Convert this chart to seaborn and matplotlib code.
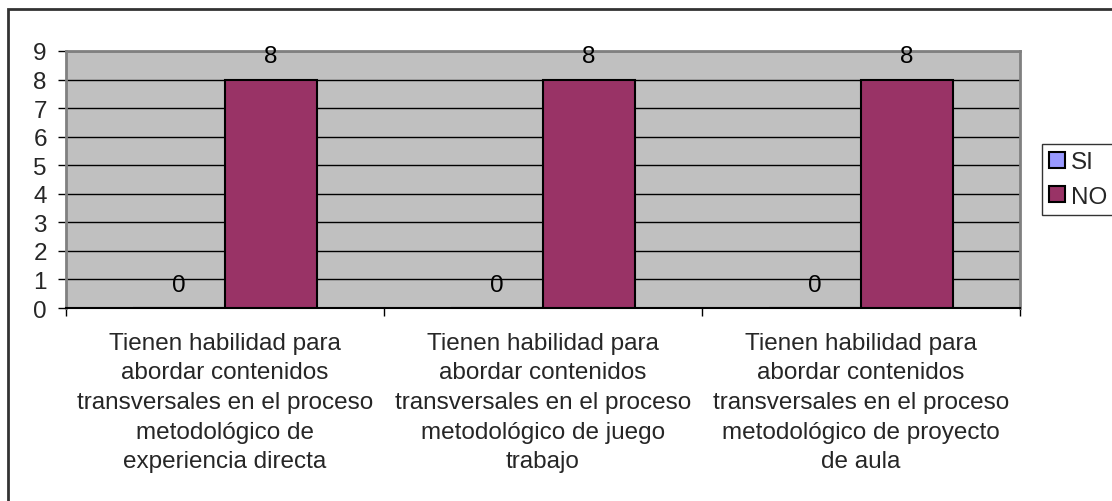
import pandas as pd
import seaborn as sns
from matplotlib import pyplot as plt
from matplotlib.patches import Rectangle

# data
categories = [
    "Tienen habilidad para\nabordar contenidos\ntransversales en el proceso\nmetodológico de\nexperiencia directa",
    "Tienen habilidad para\nabordar contenidos\ntransversales en el proceso\nmetodológico de juego\ntrabajo",
    "Tienen habilidad para\nabordar contenidos\ntransversales en el proceso\nmetodológico de proyecto\nde aula",
]
series = ["SI", "NO"]
si_values = [0, 0, 0]
no_values = [8, 8, 8]
y_ticks = list(range(0, 10))

df = pd.DataFrame({
    "Categoria": categories * 2,
    "Respuesta": ["SI"] * 3 + ["NO"] * 3,
    "Valor": si_values + no_values,
})

sns.set_style("white")
plt.rcParams['font.family'] = ['Liberation Sans', 'DejaVu Sans']
fs = 17.5

fig = plt.figure(figsize=(11.12, 5.02), dpi=100)
ax = fig.add_axes([66 / 1112, 1 - 309 / 502, (1020 - 66) / 1112, (309 - 52) / 502])
ax.set_facecolor("#C0C0C0")

sns.barplot(data=df, x="Categoria", y="Valor", hue="Respuesta", hue_order=series,
            palette=["#9999FF", "#993366"], edgecolor="black", linewidth=1.5,
            width=0.58, saturation=1, ax=ax, zorder=3)

for c in ax.containers:
    ax.bar_label(c, padding=9, fontsize=fs, color="black")

ax.set_ylim(0, 9)
ax.set_xlim(-0.5, 2.5)
ax.set_yticks(y_ticks)
ax.yaxis.grid(True, color="black", linewidth=1, zorder=1)
ax.set_axisbelow(True)
ax.tick_params(axis="y", length=5.8, width=1, color="black", labelsize=fs, pad=8, left=True)
ax.set_xticks(range(3))
ax.set_xticklabels(categories, fontsize=fs, linespacing=1.45)
ax.set_xticks([-0.5, 0.5, 1.5, 2.5], minor=True)
ax.tick_params(axis="x", which="major", length=0, pad=17)
ax.tick_params(axis="x", which="minor", length=5.8, width=1, color="black", bottom=True)
ax.set_xlabel("")
ax.set_ylabel("")

for side in ["top", "right", "left"]:
    ax.spines[side].set_visible(True)
    ax.spines[side].set_color("#808080")
    ax.spines[side].set_linewidth(2)
ax.spines["bottom"].set_color("black")
ax.spines["bottom"].set_linewidth(1.5)

ax.legend_.remove()
handles, labels = ax.get_legend_handles_labels()
leg = fig.legend(handles, labels, loc="center left",
                 bbox_to_anchor=(1042 / 1112, 1 - 180.5 / 502),
                 fontsize=fs, frameon=True, fancybox=False,
                 handlelength=0.64, handleheight=0.64, handletextpad=0.25,
                 borderpad=0.3, labelspacing=0.5, borderaxespad=0)
leg.get_frame().set_edgecolor("black")
leg.get_frame().set_linewidth(1)

# outer chart border
fig.patches.append(Rectangle((8 / 1112, -0.1), 1.2, 1 - 10 / 502 + 0.1,
                             transform=fig.transFigure, fill=False,
                             edgecolor="#333333", linewidth=2))

plt.savefig("out.png", dpi=100)
